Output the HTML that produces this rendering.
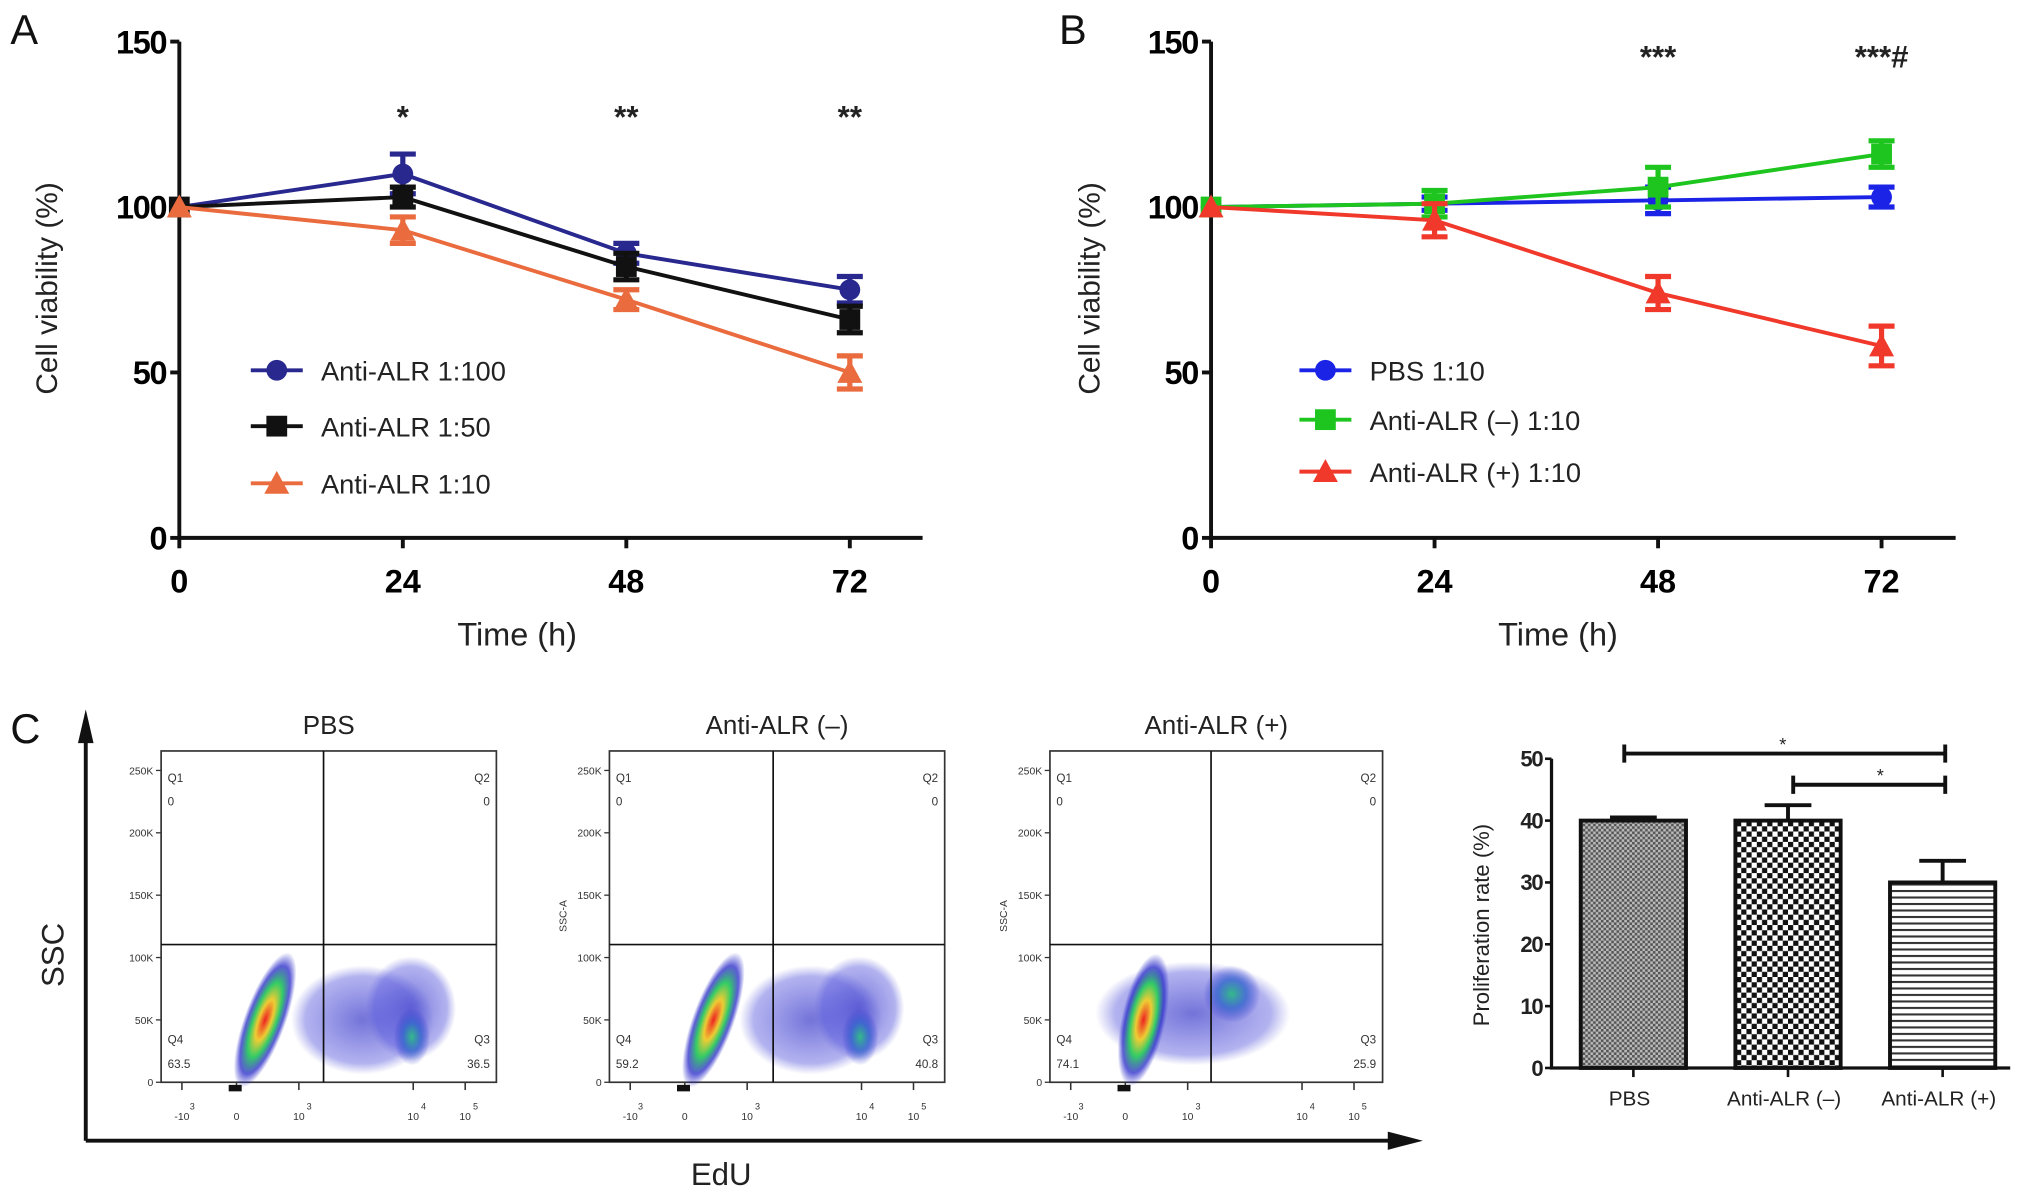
<!DOCTYPE html>
<html><head><meta charset="utf-8">
<style>
html,body{margin:0;padding:0;background:#fff;}
svg{display:block;font-family:"Liberation Sans",Arial,sans-serif;}
</style></head>
<body>
<svg id="fig" width="2031" height="1194" viewBox="0 0 1563 919" preserveAspectRatio="none" xmlns="http://www.w3.org/2000/svg">
<defs>
<pattern id="patPBS" width="4" height="4" patternUnits="userSpaceOnUse"><rect width="4" height="4" fill="#bbb"/><rect width="2" height="2" fill="#555"/><rect x="2" y="2" width="2" height="2" fill="#555"/></pattern>
<pattern id="patNeg" width="8" height="8" patternUnits="userSpaceOnUse"><rect width="8" height="8" fill="#fff"/><rect width="4" height="4" fill="#111"/><rect x="4" y="4" width="4" height="4" fill="#111"/></pattern>
<pattern id="patPos" width="6" height="5" patternUnits="userSpaceOnUse"><rect width="6" height="5" fill="#fff"/><rect y="0" width="6" height="1.6" fill="#333"/></pattern>
<radialGradient id="cloud"><stop offset="0" stop-color="#e22"/><stop offset="0.3" stop-color="#ec3"/><stop offset="0.55" stop-color="#3c6"/><stop offset="0.8" stop-color="#33c" stop-opacity="0.8"/><stop offset="1" stop-color="#33c" stop-opacity="0"/></radialGradient>
<radialGradient id="cloudB"><stop offset="0" stop-color="#3b8" /><stop offset="0.5" stop-color="#36c" stop-opacity="0.8"/><stop offset="1" stop-color="#33c" stop-opacity="0"/></radialGradient>
<radialGradient id="haze"><stop offset="0" stop-color="#44c" stop-opacity="0.75"/><stop offset="0.8" stop-color="#55d" stop-opacity="0.45"/><stop offset="1" stop-color="#66d" stop-opacity="0"/></radialGradient>
</defs>
<g id="root"></g>
</svg>
<script>
// ---- Panel A data ----
const timesA = [0, 24, 48, 72];
const aNames = ["Anti-ALR 1:100", "Anti-ALR 1:50", "Anti-ALR 1:10"];
const a100 = [100, 110, 86, 75];
const a100err = [0, 6, 3, 4];
const a50 = [100, 103, 82, 66];
const a50err = [0, 3, 4, 4];
const a10 = [100, 93, 72, 50];
const a10err = [0, 4, 3, 5];
const aStars = ["", "*", "**", "**"];
// ---- Panel B data ----
const timesB = [0, 24, 48, 72];
const bNames = ["PBS 1:10", "Anti-ALR (\u2013) 1:10", "Anti-ALR (+) 1:10"];
const bPBS = [100, 101, 102, 103];
const bPBSerr = [0, 2, 4, 3];
const bNeg = [100, 101, 106, 116];
const bNegErr = [0, 4, 6, 4];
const bPos = [100, 96, 74, 58];
const bPosErr = [0, 5, 5, 6];
const bStars = ["", "", "***", "***#"];
const yTicks = [0, 50, 100, 150];
const xTicks = [0, 24, 48, 72];
// ---- Panel C data ----
const flowTitles = ["PBS", "Anti-ALR (\u2013)", "Anti-ALR (+)"];
const flowQ4 = ["63.5", "59.2", "74.1"];
const flowQ3 = ["36.5", "40.8", "25.9"];
const flowYTicks = ["0", "50K", "100K", "150K", "200K", "250K"];
const barCats = ["PBS", "Anti-ALR (\u2013)", "Anti-ALR (+)"];
const barVals = [40, 40, 30];
const barErr = [0.5, 2.5, 3.5];
const barTicks = [0, 10, 20, 30, 40, 50];

const NS = "http://www.w3.org/2000/svg";
const root = document.getElementById("root");
function mk(tag, attrs, parent, text) {
  const e = document.createElementNS(NS, tag);
  for (const k in attrs) e.setAttribute(k, attrs[k]);
  if (text !== undefined) e.textContent = text;
  (parent || root).appendChild(e);
  return e;
}
function marker(g, shape, x, y, c, s) {
  if (shape === "circle") return mk("circle", {cx: x, cy: y, r: s, fill: c}, g);
  if (shape === "square") return mk("rect", {x: x - s, y: y - s, width: 2 * s, height: 2 * s, fill: c}, g);
  return mk("polygon", {points: `${x},${y - s * 1.2} ${x - s * 1.2},${y + s} ${x + s * 1.2},${y + s}`, fill: c}, g);
}

function linePanel(opt) {
  const g = mk("g", {});
  
  
  const X = t => opt.x0 + (t / 72) * (opt.x72 - opt.x0);
  const Y = v => opt.y0 - (v / 150) * (opt.y0 - opt.y150);
  const ax = mk("path", {d: `M${opt.x0},${opt.y150} V${opt.y0} H${opt.xEnd}`, stroke: "#111", "stroke-width": 3, fill: "none"}, g);
  
  
  yTicks.forEach(v => {
    mk("line", {x1: opt.x0 - 7, x2: opt.x0, y1: Y(v), y2: Y(v), stroke: "#111", "stroke-width": 3}, g);
    const t = mk("text", {x: opt.x0 - 10, y: Y(v) + 9, "text-anchor": "end", "font-size": 25, "font-weight": "bold", "letter-spacing": "-1"}, g, v);
    
    
  });
  xTicks.forEach(v => {
    mk("line", {x1: X(v), x2: X(v), y1: opt.y0, y2: opt.y0 + 8, stroke: "#111", "stroke-width": 3}, g);
    const t = mk("text", {x: X(v), y: opt.y0 + 42, "text-anchor": "middle", "font-size": 25, "font-weight": "bold"}, g, v);
    
    
  });
  const yt = mk("text", {transform: `translate(${opt.ytx},222) rotate(-90)`, "text-anchor": "middle", "font-size": 23, fill: "#222"}, g, "Cell viability (%)");
  
  
  const xt = mk("text", {x: opt.xtx, y: 497, "text-anchor": "middle", "font-size": 25, fill: "#222"}, g, "Time (h)");
  
  
  const pl = mk("text", {x: opt.labelX, y: 34, "font-size": 32, fill: "#111"}, g, opt.label);
  
  
  opt.series.forEach((s, i) => {
    const sg = mk("g", {}, g);
    
    
    mk("polyline", {points: s.vals.map((v, j) => `${X(opt.times[j])},${Y(v)}`).join(" "), fill: "none", stroke: s.color, "stroke-width": 3}, sg);
    s.vals.forEach((v, j) => {
      const e = s.err[j], x = X(opt.times[j]);
      if (e > 0) {
        mk("path", {d: `M${x},${Y(v + e)} V${Y(v - e)} M${x - 10},${Y(v + e)} H${x + 10} M${x - 10},${Y(v - e)} H${x + 10}`, stroke: s.color, "stroke-width": 4, fill: "none"}, sg);
      }
      const m = marker(sg, s.shape, x, Y(v), s.color, 8);
      
      
    });
    const ly = opt.legY[i];
    const lg = mk("g", {}, g);
    
    
    mk("line", {x1: opt.legX, x2: opt.legX + 40, y1: ly, y2: ly, stroke: s.color, "stroke-width": 3}, lg);
    marker(lg, s.shape, opt.legX + 20, ly, s.color, 8);
    mk("text", {x: opt.legX + 54, y: ly + 8, "font-size": 21, fill: "#222"}, lg, s.name);
  });
  opt.stars.forEach((st, j) => {
    if (!st) return;
    const t = mk("text", {x: X(opt.times[j]), y: opt.starY, "text-anchor": "middle", "font-size": 24, "font-weight": "bold", fill: "#222"}, g, st);
    
    
  });
}

linePanel({name: "panel-a-chart", label: "A", labelX: 8, x0: 138, x72: 654, xEnd: 710, y0: 414, y150: 32, ytx: 44, xtx: 398,
  times: timesA, legX: 193, legY: [285, 328, 372], starY: 98, stars: aStars,
  series: [
    {key: "1-100", name: aNames[0], vals: a100, err: a100err, color: "#28288f", shape: "circle"},
    {key: "1-50", name: aNames[1], vals: a50, err: a50err, color: "#111", shape: "square"},
    {key: "1-10", name: aNames[2], vals: a10, err: a10err, color: "#ea6b3e", shape: "triangle"}]});
linePanel({name: "panel-b-chart", label: "B", labelX: 815, x0: 932, x72: 1448, xEnd: 1505, y0: 414, y150: 32, ytx: 846, xtx: 1199,
  times: timesB, legX: 1000, legY: [285, 323, 363], starY: 52, stars: bStars,
  series: [
    {key: "pbs", name: bNames[0], vals: bPBS, err: bPBSerr, color: "#1b24e6", shape: "circle"},
    {key: "anti-neg", name: bNames[1], vals: bNeg, err: bNegErr, color: "#1fc51f", shape: "square"},
    {key: "anti-pos", name: bNames[2], vals: bPos, err: bPosErr, color: "#f0392a", shape: "triangle"}]});

// ---- Panel C ----
const cg = mk("g", {});


const cl = mk("text", {x: 8, y: 572, "font-size": 32, fill: "#111"}, cg, "C");


const arr = mk("path", {d: "M66,878 V560 M66,878 H1080", stroke: "#111", "stroke-width": 3, fill: "none"}, cg);


mk("polygon", {points: "66,546 60,572 72,572", fill: "#111"}, cg);
mk("polygon", {points: "1095,878 1068,871 1068,885", fill: "#111"}, cg);
const ssc = mk("text", {transform: "translate(49,735) rotate(-90)", "text-anchor": "middle", "font-size": 24, fill: "#222"}, cg, "SSC");


const edu = mk("text", {x: 555, y: 912, "text-anchor": "middle", "font-size": 24, fill: "#222"}, cg, "EdU");



const flowLeft = [124, 469, 808];
const flowW = [258, 258, 256];
const flowSplit = [125, 126, 124];
flowTitles.forEach((title, i) => {
  const L = flowLeft[i], W = flowW[i], T = 578, B = 833, Q = L + flowSplit[i], H = 727;
  const fg = mk("g", {}, cg);
  
  
  mk("text", {x: L + W / 2, y: 565, "text-anchor": "middle", "font-size": 20, fill: "#222"}, fg, title);
  mk("rect", {x: L, y: T, width: W, height: B - T, fill: "#fff", stroke: "#333", "stroke-width": 1.3}, fg);
  if (i < 2) {
    mk("ellipse", {cx: L + 155, cy: 785, rx: 55, ry: 42, fill: "url(#haze)"}, fg);
    mk("ellipse", {cx: L + 192, cy: 776, rx: 35, ry: 40, fill: "url(#haze)"}, fg);
    mk("ellipse", {cx: L + 193, cy: 798, rx: 14, ry: 22, fill: "url(#cloudB)"}, fg);
    mk("ellipse", {cx: L + 80, cy: 785, rx: 16, ry: 55, transform: `rotate(20 ${L + 80} 785)`, fill: "url(#cloud)"}, fg);
  } else {
    mk("ellipse", {cx: L + 110, cy: 780, rx: 75, ry: 40, fill: "url(#haze)"}, fg);
    mk("ellipse", {cx: L + 140, cy: 765, rx: 22, ry: 22, fill: "url(#cloudB)"}, fg);
    mk("ellipse", {cx: L + 72, cy: 785, rx: 17, ry: 52, transform: `rotate(12 ${L + 72} 785)`, fill: "url(#cloud)"}, fg);
  }
  mk("line", {x1: Q, x2: Q, y1: T, y2: B, stroke: "#111", "stroke-width": 1.3}, fg);
  mk("line", {x1: L, x2: L + W, y1: H, y2: H, stroke: "#111", "stroke-width": 1.3}, fg);
  const fs = 9;
  mk("text", {x: L + 5, y: 602, "font-size": fs, fill: "#333"}, fg, "Q1");
  mk("text", {x: L + 5, y: 620, "font-size": fs, fill: "#333"}, fg, "0");
  mk("text", {x: L + W - 5, y: 602, "font-size": fs, "text-anchor": "end", fill: "#333"}, fg, "Q2");
  mk("text", {x: L + W - 5, y: 620, "font-size": fs, "text-anchor": "end", fill: "#333"}, fg, "0");
  mk("text", {x: L + 5, y: 803, "font-size": fs, fill: "#333"}, fg, "Q4");
  mk("text", {x: L + 5, y: 822, "font-size": fs, fill: "#333"}, fg, flowQ4[i]);
  mk("text", {x: L + W - 5, y: 803, "font-size": fs, "text-anchor": "end", fill: "#333"}, fg, "Q3");
  mk("text", {x: L + W - 5, y: 822, "font-size": fs, "text-anchor": "end", fill: "#333"}, fg, flowQ3[i]);
  flowYTicks.forEach((lab, k) => {
    const y = 833 - k * 48;
    mk("line", {x1: L - 4, x2: L, y1: y, y2: y, stroke: "#333", "stroke-width": 1}, fg);
    mk("text", {x: L - 6, y: y + 3, "font-size": 8, "text-anchor": "end", fill: "#333"}, fg, lab);
  });
  if (i > 0) mk("text", {transform: `translate(${L - 33},705) rotate(-90)`, "font-size": 8, "text-anchor": "middle", fill: "#333"}, fg, "SSC-A");
  const xl = [["-10", 16], ["0", 58], ["10", 106], ["10", 194], ["10", 234]];
  const sup = ["3", "", "3", "4", "5"];
  xl.forEach((p, k) => {
    mk("line", {x1: L + p[1], x2: L + p[1], y1: B, y2: B + 6, stroke: "#333", "stroke-width": 1.2}, fg);
    mk("text", {x: L + p[1], y: 862, "font-size": 8, "text-anchor": "middle", fill: "#333"}, fg, p[0]);
    if (sup[k]) mk("text", {x: L + p[1] + 6, y: 854, "font-size": 7, fill: "#333"}, fg, sup[k]);
  });
  mk("rect", {x: L + 52, y: B + 2, width: 10, height: 5, fill: "#111"}, fg);
});

// ---- Bar chart ----
const bg = mk("g", {});


const bx0 = 1194, bxEnd = 1547, by0 = 822, by50 = 584;
const BY = v => by0 - (v / 50) * (by0 - by50);
const barCenters = [1257, 1376, 1495];
const barW = 81;
const pats = ["url(#patPBS)", "url(#patNeg)", "url(#patPos)"];
barVals.forEach((v, i) => {
  const cx = barCenters[i];
  const b = mk("rect", {x: cx - barW / 2, y: BY(v), width: barW, height: by0 - BY(v), fill: pats[i], stroke: "#111", "stroke-width": 3}, bg);
  
  
  const e = mk("path", {d: `M${cx},${BY(v)} V${BY(v + barErr[i])} M${cx - 18},${BY(v + barErr[i])} H${cx + 18}`, stroke: "#111", "stroke-width": 3, fill: "none"}, bg);
  
  
  mk("line", {x1: cx, x2: cx, y1: by0, y2: by0 + 7, stroke: "#111", "stroke-width": 2}, bg);
  const t = mk("text", {x: cx - 3, y: 851, "text-anchor": "middle", "font-size": 16, fill: "#222"}, bg, barCats[i]);
  
  
});
mk("path", {d: `M${bx0},${by50} V${by0} H${bxEnd}`, stroke: "#111", "stroke-width": 2.5, fill: "none"}, bg);
barTicks.forEach(v => {
  mk("line", {x1: bx0 - 5, x2: bx0, y1: BY(v), y2: BY(v), stroke: "#111", "stroke-width": 2}, bg);
  const t = mk("text", {x: bx0 - 7, y: BY(v) + 6, "text-anchor": "end", "font-size": 17, "font-weight": "bold", "letter-spacing": "-1", fill: "#222"}, bg, v);
  
  
});
const byt = mk("text", {transform: "translate(1146,712) rotate(-90)", "text-anchor": "middle", "font-size": 17, fill: "#222"}, bg, "Proliferation rate (%)");


const sig1 = mk("path", {d: "M1250,580 H1497 M1250,573 V587 M1497,573 V587", stroke: "#111", "stroke-width": 3, fill: "none"}, bg);


mk("text", {x: 1372, y: 578, "text-anchor": "middle", "font-size": 14, fill: "#222"}, bg, "*");
const sig2 = mk("path", {d: "M1380,604 H1497 M1380,597 V611 M1497,597 V611", stroke: "#111", "stroke-width": 3, fill: "none"}, bg);


mk("text", {x: 1447, y: 602, "text-anchor": "middle", "font-size": 14, fill: "#222"}, bg, "*");
</script>
</body></html>
